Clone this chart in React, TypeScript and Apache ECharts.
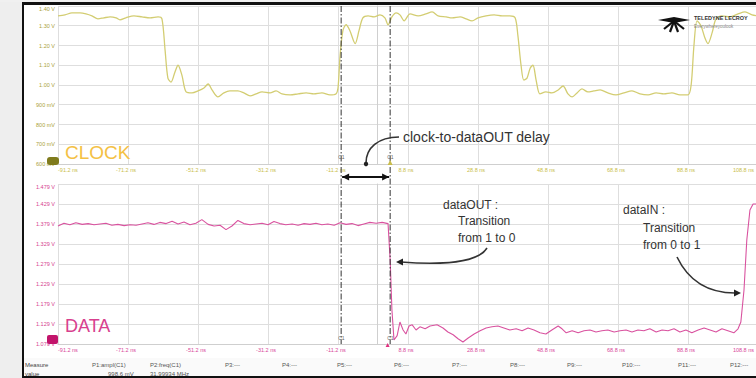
import React, { useEffect, useRef } from "react";
import * as echarts from "echarts";

// ---- time axis (ns) ----
const timeMin = -91.2;
const timeMax = 108.8;
const timeStep = 20;

// ---- CLOCK channel (V) ----
const clockTickLabels = ["600 mV", "700 mV", "800 mV", "900 mV", "1.00 V", "1.10 V", "1.20 V", "1.30 V", "1.40 V"];
const clockTime = [
  -91.2, -89.2, -87.2, -84.9, -83.2, -81.5, -79.8, -78.1, -76.3, -74.6, -73.5, -71.8, -69.5, -67.2, -64.9, -62.6,
  -61.5, -60.6, -59.8, -58.9, -57.8, -56.9, -55.8, -54.6, -52.9, -51.2, -49.5, -48.3, -47.2, -45.5, -43.8, -42.1,
  -39.8, -38.1, -36.3, -34.6, -32.9, -30.6, -28.9, -27.2, -24.9, -22.6, -20.3, -18.1, -15.8, -13.5, -11.8, -11.2,
  -10.6, -9.8, -8.9, -7.8, -6.3, -5.2, -4.1, -2.6, -0.9, 0.8, 2.2, 3.1, 4.2, 5.4, 6.5, 7.7, 9.4, 11.7, 13.9, 15.7,
  17.4, 19.7, 21.4, 23.7, 25.4, 27.1, 28.8, 31.1, 33.4, 35.7, 37.9, 39.4, 40.2, 41.1, 41.9, 42.8, 43.7, 44.5, 45.4,
  46.5, 48.2, 49.9, 51.7, 53.1, 54.5, 55.7, 57.1, 58.5, 60.2, 61.9, 63.7, 65.9, 68.2, 70.5, 72.8, 75.1, 77.4, 79.7,
  81.9, 84.2, 86.5, 88.8, 89.7, 90.5, 91.4, 92.5, 93.7, 94.5, 95.7, 96.8, 98.5, 100.8, 103.1, 105.1, 107.1, 108.8,
];
const clockVolts = [
  1.35, 1.355, 1.365, 1.365, 1.36, 1.35, 1.335, 1.34, 1.345, 1.34, 1.33, 1.34, 1.35, 1.345, 1.34, 1.345,
  1.335, 1.175, 1.035, 1.015, 1.065, 1.1, 1.05, 0.965, 0.96, 0.97, 0.985, 1.005, 0.975, 0.94, 0.96, 0.97,
  0.97, 0.96, 0.945, 0.955, 0.965, 0.96, 0.97, 0.955, 0.95, 0.955, 0.96, 0.955, 0.96, 0.95, 0.955, 0.985,
  1.15, 1.275, 1.305, 1.275, 1.21, 1.275, 1.34, 1.35, 1.345, 1.355, 1.34, 1.305, 1.345, 1.365, 1.355, 1.325, 1.36, 1.35, 1.36, 1.37,
  1.35, 1.345, 1.34, 1.345, 1.335, 1.325, 1.34, 1.35, 1.355, 1.35, 1.35, 1.34, 1.25, 1.1, 1.025, 1.035, 1.085, 1.1, 1.025,
  0.955, 0.965, 0.96, 0.975, 0.995, 0.955, 0.94, 0.96, 0.98, 0.965, 0.97, 0.975, 0.96, 0.95, 0.96, 0.97, 0.955, 0.95, 0.96,
  0.955, 0.96, 0.95, 0.95, 1.0, 1.2, 1.325, 1.3, 1.235, 1.21, 1.265, 1.335, 1.35, 1.345, 1.36, 1.37, 1.355, 1.35,
];

// ---- DATA channel (V) ----
const dataTickLabels = ["1.079 V", "1.129 V", "1.179 V", "1.229 V", "1.279 V", "1.329 V", "1.379 V", "1.429 V", "1.479 V"];
const dataTime = [
  -91.2, -89.5, -87.8, -86.1, -84.3, -82.6, -80.9, -79.2, -77.5, -75.8, -74.1, -72.3, -70.6, -68.9, -67.2, -65.5,
  -63.8, -62.1, -60.3, -58.6, -56.9, -55.2, -53.5, -51.8, -50.1, -48.3, -46.6, -44.9, -43.2, -41.5, -39.8, -38.1,
  -36.3, -34.6, -32.9, -31.2, -29.5, -27.8, -26.1, -24.3, -22.6, -20.9, -19.2, -17.5, -15.8, -14.1, -12.3, -10.6,
  -8.9, -7.2, -5.5, -3.8, -2.1, -0.3, 1.4, 3.1, 3.7, 4.2, 4.8, 5.7, 6.5, 7.4, 8.2, 9.1, 10.0, 11.1, 12.2, 13.7, 15.1,
  17.1, 18.8, 20.2, 21.7, 23.1, 24.5, 26.0, 27.7, 29.4, 31.1, 32.8, 34.5, 36.2, 37.9, 39.7, 41.4, 43.1, 44.8, 46.5,
  48.2, 49.9, 51.7, 52.8, 54.0, 55.7, 57.4, 59.1, 60.8, 62.5, 64.2, 65.9, 67.7, 69.4, 71.1, 72.8, 74.5, 76.2, 77.9,
  79.7, 81.4, 83.1, 84.8, 86.5, 88.2, 89.9, 91.7, 93.4, 95.1, 96.8, 98.5, 100.2, 101.9, 103.1, 103.9, 104.8, 105.6,
  106.5, 107.4, 108.8,
];
const dataVolts = [
  1.374, 1.381, 1.377, 1.382, 1.378, 1.38, 1.377, 1.379, 1.381, 1.376, 1.378, 1.375, 1.377, 1.376, 1.379, 1.382,
  1.378, 1.383, 1.38, 1.386, 1.379, 1.384, 1.377, 1.381, 1.39, 1.378, 1.374, 1.376, 1.365, 1.374, 1.388, 1.38,
  1.377, 1.379, 1.381, 1.377, 1.385, 1.38, 1.377, 1.379, 1.376, 1.38, 1.378, 1.381, 1.377, 1.379, 1.376, 1.382,
  1.378, 1.38, 1.375, 1.379, 1.383, 1.381, 1.383, 1.38, 1.29, 1.165, 1.089, 1.1, 1.134, 1.114, 1.104, 1.124, 1.127, 1.114, 1.122, 1.117, 1.124,
  1.127, 1.119, 1.109, 1.102, 1.092, 1.084, 1.094, 1.104, 1.112, 1.119, 1.122, 1.124, 1.119, 1.114, 1.117, 1.112, 1.119, 1.114, 1.107,
  1.104, 1.114, 1.124, 1.117, 1.107, 1.112, 1.107, 1.112, 1.114, 1.109, 1.112, 1.114, 1.109, 1.112, 1.114, 1.109, 1.114, 1.112, 1.117,
  1.109, 1.114, 1.112, 1.117, 1.109, 1.114, 1.107, 1.114, 1.119, 1.114, 1.109, 1.117, 1.112, 1.107, 1.117, 1.134, 1.214, 1.339,
  1.414, 1.429, 1.429,
];

// ---- cursors (ns) ----
const cursorTimes = [-10.3, 3.7];

// ---- measurement table ----
const measureHeaders = ["P1:ampl(C1)", "P2:freq(C1)", "P3:---", "P4:---", "P5:---", "P6:---", "P7:---", "P8:---", "P9:---", "P10:---", "P11:---", "P12:---"];
const measureValues = ["998.6 mV", "31.99934 MHz"];

const FONT = '"Liberation Sans", Arial, sans-serif';
const CLOCK_COLOR = "#d3cd72";
const DATA_COLOR = "#d9529f";

function pairs(t: number[], v: number[]) {
  return t.map((x, i) => [x, v[i]]);
}

export default function App() {
  const ref = useRef<HTMLDivElement>(null);
  useEffect(() => {
    if (!ref.current) return;
    const chart = echarts.init(ref.current, null, { renderer: "svg", width: 756, height: 378 });
    const xAxisBase = (labelColor: string) => ({
      type: "value",
      min: timeMin,
      max: timeMax,
      interval: timeStep,
      axisLine: { show: true, lineStyle: { color: "#cfcfcf", width: 1 } },
      axisTick: { show: false },
      splitLine: { show: true, lineStyle: { color: "#dedede", width: 1 } },
      axisLabel: {
        color: labelColor,
        fontSize: 5.5,
        fontFamily: FONT,
        margin: 3,
        padding: [0, 4, 0, 0],
        alignMinLabel: "left",
        alignMaxLabel: "right",
        formatter: (v: number) => v.toFixed(1) + " ns",
      },
    });
    const yAxisBase = (min: number, max: number, step: number, labels: string[], color: string) => ({
      type: "value",
      min,
      max,
      interval: step,
      axisLine: { show: true, lineStyle: { color: "#cfcfcf" } },
      axisTick: { show: false },
      splitLine: { show: true, lineStyle: { color: "#dedede" } },
      axisLabel: {
        color,
        fontSize: 5.5,
        fontFamily: FONT,
        margin: 3,
        verticalAlignMaxLabel: "top",
        formatter: (v: number) => {
          const i = Math.round((v - min) / step);
          return labels[i] ?? "";
        },
      },
    });
    chart.setOption({
      animation: false,
      backgroundColor: "#ffffff",
      grid: [
        { left: 58, top: 6, width: 700, height: 158, containLabel: false, outerBoundsMode: "none" },
        { left: 58, top: 184, width: 700, height: 160, containLabel: false, outerBoundsMode: "none" },
      ],
      xAxis: [
        { ...xAxisBase("#c9bd4a"), gridIndex: 0 },
        { ...xAxisBase("#d8479a"), gridIndex: 1 },
      ],
      yAxis: [
        { ...yAxisBase(0.6, 1.4, 0.1, clockTickLabels, "#aaa23a"), gridIndex: 0 },
        { ...yAxisBase(1.079, 1.479, 0.05, dataTickLabels, "#d6418f"), gridIndex: 1 },
      ],
      series: [
        {
          type: "line",
          name: "CLOCK",
          xAxisIndex: 0,
          yAxisIndex: 0,
          data: pairs(clockTime, clockVolts),
          showSymbol: false,
          lineStyle: { color: CLOCK_COLOR, width: 1.3 },
          smooth: 0.3,
        },
        {
          type: "line",
          name: "DATA",
          xAxisIndex: 1,
          yAxisIndex: 1,
          data: pairs(dataTime, dataVolts),
          showSymbol: false,
          lineStyle: { color: DATA_COLOR, width: 1.1 },
        },
      ],
    });

    const cx = cursorTimes.map((t) => chart.convertToPixel({ xAxisIndex: 0 }, t) as number);
    const yTop = chart.convertToPixel({ yAxisIndex: 0 }, 1.4) as number;
    const yTopBottom = chart.convertToPixel({ yAxisIndex: 0 }, 0.6) as number;
    const yBot = chart.convertToPixel({ yAxisIndex: 1 }, 1.079) as number;
    const yBotTop = chart.convertToPixel({ yAxisIndex: 1 }, 1.479) as number;
    const midGap = (yTopBottom + yBotTop) / 2 + 3;

    const txt = (x: number, y: number, text: string, size: number, fill: string, extra: any = {}) => ({
      type: "text",
      x,
      y,
      style: { text, fontSize: size, fill, fontFamily: FONT, verticalAlign: "middle", ...extra },
      z: 50,
    });

    const graphic: any[] = [
      // left strip and frame
      { type: "rect", shape: { x: 0, y: 0, width: 22, height: 378 }, style: { fill: "#eeeeee" }, z: 40 },
      { type: "rect", shape: { x: 0, y: 0, width: 756, height: 2 }, style: { fill: "#f0f0f0" }, z: 40 },
      { type: "rect", shape: { x: 22, y: 2, width: 2, height: 376 }, style: { fill: "#111" }, z: 41 },
      { type: "rect", shape: { x: 22, y: 2, width: 734, height: 3 }, style: { fill: "#111" }, z: 41 },
      { type: "rect", shape: { x: 22, y: 376, width: 734, height: 2 }, style: { fill: "#111" }, z: 41 },
      // channel labels
      txt(65, yTopBottom - 12, "CLOCK", 19, "#f4c145"),
      txt(65, yBot - 18, "DATA", 18, "#d8408e"),
      // channel markers
      { type: "rect", shape: { x: 47, y: yTopBottom - 7, width: 12, height: 8, r: 3 }, style: { fill: "#7f7b1c" }, z: 45 },
      { type: "rect", shape: { x: 47, y: yBot - 9, width: 11, height: 9, r: 2 }, style: { fill: "#c2146b" }, z: 45 },
    ];

    // cursor lines
    cx.forEach((x) => {
      graphic.push({
        type: "line",
        shape: { x1: x, y1: yTop, x2: x, y2: yBot },
        style: { stroke: "#333", lineWidth: 1, lineDash: [6, 2, 1.5, 2] },
        z: 30,
      });
      graphic.push(txt(x - 3, yTopBottom - 7, "C1", 5, "#666"));
      graphic.push(txt(x - 3, yBot - 6, "C1", 5, "#666"));
    });
    // trigger markers
    graphic.push({ type: "polygon", shape: { points: [[cx[1] - 2.5, yTopBottom + 1], [cx[1] + 2.5, yTopBottom + 1], [cx[1], yTopBottom - 4]] }, style: { fill: "#c9bd4a" }, z: 35 });
    graphic.push({ type: "polygon", shape: { points: [[cx[1] - 4.5, yBot + 3], [cx[1] - 0.5, yBot + 3], [cx[1] - 2.5, yBot - 1]] }, style: { fill: "#e0307f" }, z: 35 });

    // double-headed delay arrow
    graphic.push({ type: "line", shape: { x1: cx[0] + 1, y1: midGap, x2: cx[1] - 1, y2: midGap }, style: { stroke: "#111", lineWidth: 2 }, z: 36 });
    graphic.push({ type: "polygon", shape: { points: [[cx[0] + 1, midGap], [cx[0] + 8, midGap - 3.5], [cx[0] + 8, midGap + 3.5]] }, style: { fill: "#111" }, z: 36 });
    graphic.push({ type: "polygon", shape: { points: [[cx[1] - 1, midGap], [cx[1] - 8, midGap - 3.5], [cx[1] - 8, midGap + 3.5]] }, style: { fill: "#111" }, z: 36 });

    // annotation: clock-to-dataOUT delay
    graphic.push(txt(403, 137, "clock-to-dataOUT delay", 14, "#333"));
    graphic.push({ type: "bezierCurve", shape: { x1: 399, y1: 137, cpx1: 378, cpy1: 137, cpx2: 366, cpy2: 148, x2: 366, y2: 163 }, style: { stroke: "#333", lineWidth: 1.6, fill: null }, z: 36 });
    graphic.push({ type: "circle", shape: { cx: 366, cy: 164, r: 2.2 }, style: { fill: "#222" }, z: 36 });

    // annotation: dataOUT
    graphic.push(txt(443, 205, "dataOUT :", 12, "#333"));
    graphic.push(txt(458, 221, "Transition", 12, "#333"));
    graphic.push(txt(458, 238, "from 1 to 0", 12, "#333"));
    graphic.push({ type: "bezierCurve", shape: { x1: 487, y1: 248, cpx1: 478, cpy1: 263, cpx2: 440, cpy2: 265, x2: 401, y2: 262 }, style: { stroke: "#333", lineWidth: 1.6, fill: null }, z: 36 });
    graphic.push({ type: "polygon", shape: { points: [[396, 262], [403, 258.5], [403, 265.5]] }, style: { fill: "#222" }, z: 36 });

    // annotation: dataIN
    graphic.push(txt(623, 210, "dataIN :", 12, "#333"));
    graphic.push(txt(643, 228, "Transition", 12, "#333"));
    graphic.push(txt(643, 245, "from 0 to 1", 12, "#333"));
    graphic.push({ type: "bezierCurve", shape: { x1: 677, y1: 257, cpx1: 690, cpy1: 284, cpx2: 712, cpy2: 293, x2: 735, y2: 293 }, style: { stroke: "#333", lineWidth: 1.6, fill: null }, z: 36 });
    graphic.push({ type: "polygon", shape: { points: [[741, 293], [734, 289.5], [734, 296.5]] }, style: { fill: "#222" }, z: 36 });

    // logo
    graphic.push({ type: "polygon", shape: { points: [[658, 20], [674, 17], [690, 20], [674, 23]] }, style: { fill: "#111" }, z: 45 });
    [[664, 29], [670, 32], [678, 32], [684, 29]].forEach(([x, y]) => {
      graphic.push({ type: "line", shape: { x1: 674, y1: 21, x2: x, y2: y }, style: { stroke: "#111", lineWidth: 2.2 }, z: 45 });
    });
    graphic.push(txt(694, 18, "TELEDYNE LECROY", 5.5, "#333", { fontWeight: "bold" }));
    graphic.push(txt(694, 26, "Everywhereyoulook", 4.5, "#888"));

    // measurement table
    graphic.push({ type: "rect", shape: { x: 24, y: 358, width: 732, height: 18 }, style: { fill: "#fafafa" }, z: 20 });
    graphic.push(txt(25, 365, "Measure", 6, "#444"));
    graphic.push(txt(25, 373.5, "value", 6, "#444"));
    const headerX = [92, 150, 225, 282, 337, 394, 452, 510, 567, 622, 678, 730];
    measureHeaders.forEach((h, i) => graphic.push(txt(headerX[i], 365, h, 6, "#555")));
    graphic.push(txt(108, 373.5, measureValues[0], 6, "#555"));
    graphic.push(txt(150, 373.5, measureValues[1], 6, "#555"));

    chart.setOption({ graphic });
    return () => chart.dispose();
  }, []);
  return <div ref={ref} style={{ position: "fixed", left: 0, top: 0, width: 756, height: 378 }} />;
}
